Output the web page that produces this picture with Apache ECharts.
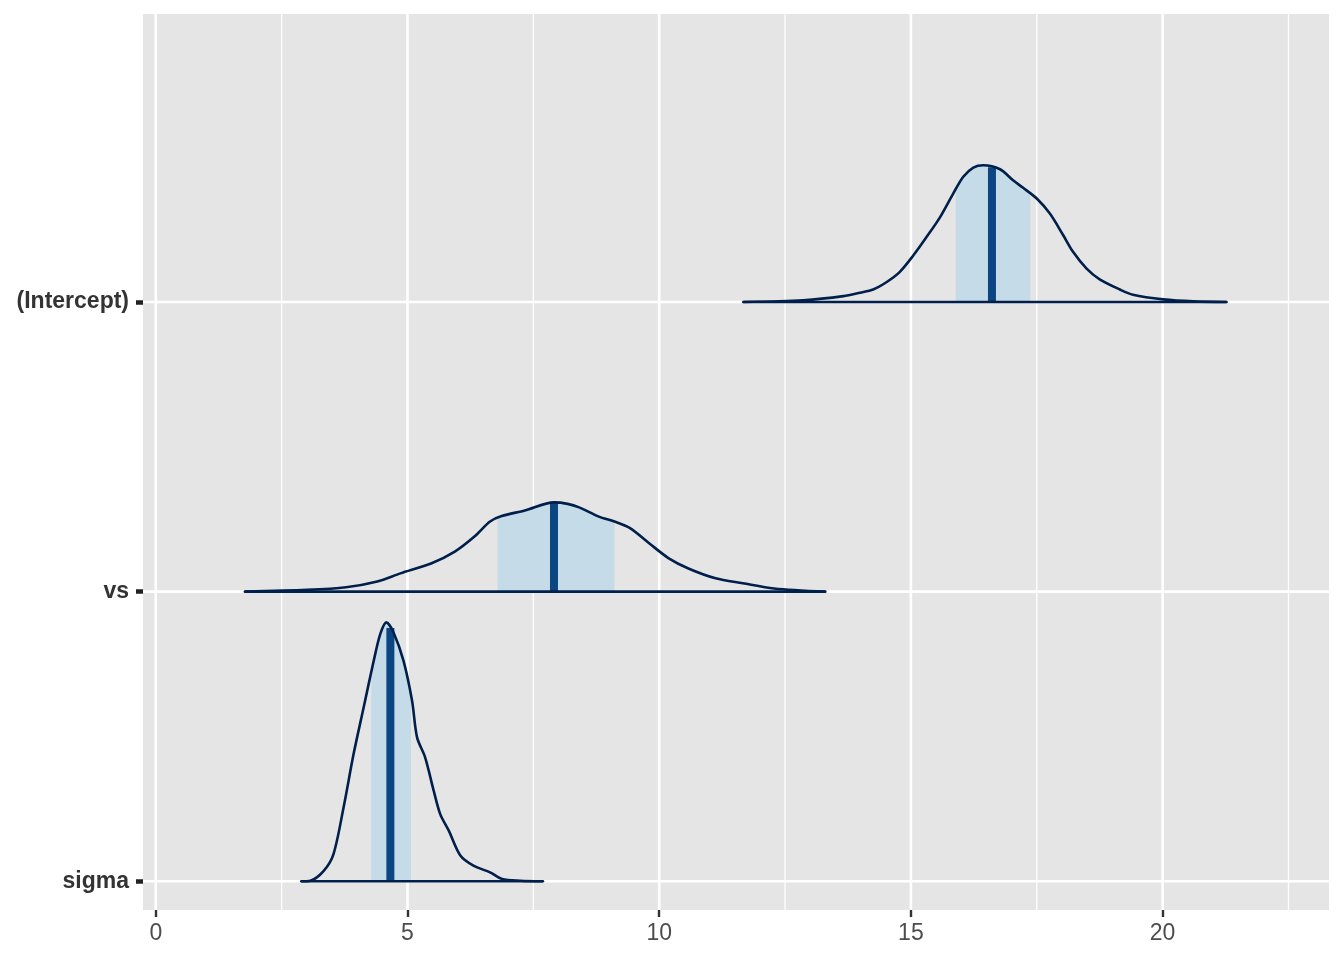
<!DOCTYPE html>
<html><head><meta charset="utf-8">
<script src="https://cdn.jsdelivr.net/npm/echarts@6/dist/echarts.min.js"></script>
<style>html,body{margin:0;padding:0;background:#fff}#c{width:1344px;height:960px}</style>
</head><body><div id="c"></div>
<script>
// parameter names, bottom to top (row index = position on y)
const params = ['sigma', 'vs', '(Intercept)'];
const xTicks = [0, 5, 10, 15, 20];
const xMinorTicks = [2.5, 7.5, 12.5, 17.5, 22.5];

// density outlines (x value, height above row baseline in row units)
const sigmaX = [2.89, 3.07, 3.34, 3.53, 3.73, 3.93, 4.13, 4.33, 4.46, 4.58, 4.72, 4.92, 5.09, 5.19, 5.35, 5.52, 5.65, 5.82, 6.05, 6.31, 6.64, 6.88, 7.24, 7.69];
const sigmaH = [0, 0.002, 0.037, 0.094, 0.255, 0.440, 0.601, 0.762, 0.854, 0.894, 0.860, 0.762, 0.624, 0.497, 0.428, 0.313, 0.232, 0.175, 0.089, 0.054, 0.031, 0.008, 0.002, 0];

const vsX = [1.77, 3.01, 3.78, 4.40, 4.86, 5.48, 5.94, 6.33, 6.64, 6.87, 7.33, 7.91, 8.18, 8.41, 8.80, 9.11, 9.42, 9.80, 10.19, 10.58, 11.12, 11.66, 12.28, 13.30];
const vsH = [0, 0.006, 0.015, 0.035, 0.063, 0.098, 0.138, 0.190, 0.242, 0.261, 0.280, 0.308, 0.303, 0.291, 0.259, 0.242, 0.219, 0.167, 0.115, 0.080, 0.046, 0.029, 0.011, 0];

const interceptX = [11.67, 12.86, 13.66, 13.99, 14.25, 14.52, 14.78, 15.05, 15.31, 15.58, 15.84, 16.04, 16.24, 16.44, 16.77, 17.03, 17.23, 17.50, 17.76, 18.02, 18.22, 18.49, 18.75, 19.15, 19.41, 20.01, 20.61, 21.27];
const interceptH = [0, 0.006, 0.020, 0.032, 0.043, 0.069, 0.104, 0.161, 0.224, 0.293, 0.374, 0.432, 0.464, 0.472, 0.458, 0.420, 0.394, 0.357, 0.305, 0.232, 0.173, 0.115, 0.078, 0.043, 0.025, 0.009, 0.002, 0];

// inner (50%) interval and median per parameter
const intervalLo = [4.28, 6.79, 15.89];
const intervalHi = [5.07, 9.11, 17.37];
const medians = [4.66, 7.91, 16.61];

const densX = [sigmaX, vsX, interceptX];
const densH = [sigmaH, vsH, interceptH];

const X_MIN = -0.254, X_MAX = 23.305, Y_MIN = -0.099, Y_MAX = 2.994;

function hAt(xs, hs, x) {
  for (let j = 0; j < xs.length - 1; j++) {
    if (x >= xs[j] && x <= xs[j + 1]) {
      const t = (x - xs[j]) / (xs[j + 1] - xs[j]);
      return hs[j] + t * (hs[j + 1] - hs[j]);
    }
  }
  return 0;
}

const OUT = '#011f4b', FILL = '#c6dbe8', MED = '#0b4682';
const SMOOTH = 0.3;
const series = [];

// panel grid lines as plain line series (below everything)
function gridSeries(data, width) {
  series.push({ type: 'line', z: 1, silent: true, symbol: 'none', data: data,
    lineStyle: { color: '#ffffff', width: width } });
}
xTicks.forEach(v => gridSeries([[v, Y_MIN], [v, Y_MAX]], 2.6));
xMinorTicks.forEach(v => gridSeries([[v, Y_MIN], [v, Y_MAX]], 1.3));
params.forEach((p, i) => gridSeries([[X_MIN, i], [X_MAX, i]], 2.6));

params.forEach((p, i) => {
  const xs = densX[i], hs = densH[i];
  const lo = intervalLo[i], hi = intervalHi[i], m = medians[i];
  const band = [[lo, i + hAt(xs, hs, lo)]];
  xs.forEach((x, j) => { if (x > lo && x < hi) band.push([x, i + hs[j]]); });
  band.push([hi, i + hAt(xs, hs, hi)]);
  series.push({
    type: 'line', z: 2, silent: true, symbol: 'none', smooth: SMOOTH,
    data: band, lineStyle: { width: 0, opacity: 0 },
    areaStyle: { color: FILL, opacity: 1, origin: i }
  });
  series.push({
    type: 'line', z: 3, silent: true, symbol: 'none',
    data: [[m, i], [m, i + hAt(xs, hs, m)]],
    lineStyle: { color: MED, width: 8, cap: 'butt' }
  });
  series.push({
    type: 'line', z: 4, silent: true, symbol: 'none', smooth: SMOOTH,
    data: xs.map((x, j) => [x, i + hs[j]]),
    lineStyle: { color: OUT, width: 2.6 }
  });
  series.push({
    type: 'line', z: 4, silent: true, symbol: 'none',
    data: [[xs[0], i], [xs[xs.length - 1], i]],
    lineStyle: { color: OUT, width: 2.6, cap: 'round' }
  });
});

const chart = echarts.init(document.getElementById('c'), null, { renderer: 'canvas' });
chart.setOption({
  animation: false,
  backgroundColor: '#ffffff',
  grid: { left: 143, top: 14, width: 1186, height: 896, show: true, backgroundColor: '#E5E5E5', borderWidth: 0 },
  xAxis: {
    type: 'value', min: X_MIN, max: X_MAX,
    axisLine: { show: false, onZero: false },
    splitLine: { show: false },
    axisTick: { show: true, customValues: xTicks, length: 7, lineStyle: { color: '#333333', width: 2.4 } },
    axisLabel: { customValues: xTicks, margin: 12, color: '#4D4D4D', fontSize: 23, fontFamily: 'Liberation Sans, Arial, sans-serif' }
  },
  yAxis: {
    type: 'value', min: Y_MIN, max: Y_MAX,
    axisLine: { show: false, onZero: false },
    splitLine: { show: false },
    axisTick: { show: true, customValues: [0, 1, 2], length: 7, lineStyle: { color: '#222222', width: 4.5 } },
    axisLabel: {
      customValues: [0, 1, 2], margin: 14, color: '#333333', fontSize: 23, fontWeight: 'bold',
      fontFamily: 'Liberation Sans, Arial, sans-serif',
      formatter: v => params[Math.round(v)]
    }
  },
  series: series
});
</script>
</body></html>
